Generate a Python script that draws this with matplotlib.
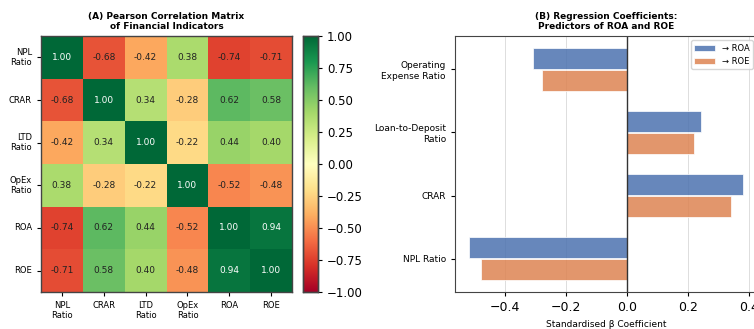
import numpy as np
import matplotlib
matplotlib.use('Agg')
import matplotlib.pyplot as plt
import seaborn as sns

### DATA

labels = ['NPL\nRatio', 'CRAR', 'LTD\nRatio', 'OpEx\nRatio', 'ROA', 'ROE']
corr = np.array([
    [1.00, -0.68, -0.42, 0.38, -0.74, -0.71],
    [-0.68, 1.00, 0.34, -0.28, 0.62, 0.58],
    [-0.42, 0.34, 1.00, -0.22, 0.44, 0.40],
    [0.38, -0.28, -0.22, 1.00, -0.52, -0.48],
    [-0.74, 0.62, 0.44, -0.52, 1.00, 0.94],
    [-0.71, 0.58, 0.40, -0.48, 0.94, 1.00],
])

predictors = ['NPL Ratio', 'CRAR', 'Loan-to-Deposit\nRatio', 'Operating\nExpense Ratio']
beta_roa = [-0.52, 0.38, 0.24, -0.31]
beta_roe = [-0.48, 0.34, 0.22, -0.28]

### PLOT

fig = plt.figure(figsize=(7.54, 3.29), dpi=100)

ax1 = fig.add_axes([0.0544, 0.1125, 0.3329, 0.778])
cax = fig.add_axes([0.4019, 0.1125, 0.0199, 0.778])
ax2 = fig.add_axes([0.6034, 0.1125, 0.4005, 0.778])

# (A) heatmap
sns.heatmap(corr, ax=ax1, cbar_ax=cax, cmap='RdYlGn', vmin=-1, vmax=1,
            annot=False, xticklabels=labels, yticklabels=labels)
for i in range(corr.shape[0]):
    for j in range(corr.shape[1]):
        v = corr[i, j]
        ax1.text(j + 0.5, i + 0.5, f'{v:.2f}', ha='center', va='center',
                 fontsize=6.5, color='white' if v > 0.9 else '#222222')
for s in ax1.spines.values():
    s.set_visible(True)
    s.set_linewidth(1.0)
    s.set_color('#444444')
ax1.tick_params(axis='both', labelsize=6, length=3)
plt.setp(ax1.get_xticklabels(), rotation=0)
plt.setp(ax1.get_yticklabels(), rotation=0)
ax1.set_title('(A) Pearson Correlation Matrix\nof Financial Indicators',
              fontsize=6.5, fontweight='bold', pad=5)
cax.tick_params(labelsize=8.5, length=3)
cax.set_yticks([-1, -0.75, -0.5, -0.25, 0, 0.25, 0.5, 0.75, 1])
for s in cax.spines.values():
    s.set_visible(True)
    s.set_linewidth(1.0)
    s.set_color('#444444')

# (B) regression coefficients
y = np.arange(len(predictors))
h = 0.34
ax2.barh(y + h / 2 + 0.005, beta_roa, height=h, color='#4C72B0', alpha=0.85,
         edgecolor='white', linewidth=0.6, label='→ ROA')
ax2.barh(y - h / 2 - 0.005, beta_roe, height=h, color='#DD8452', alpha=0.85,
         edgecolor='white', linewidth=0.6, label='→ ROE')
ax2.axvline(0, color='#333333', lw=1.0)
ax2.set_yticks(y)
ax2.set_yticklabels(predictors)
ax2.tick_params(axis='y', labelsize=6.5, length=3)
ax2.tick_params(axis='x', labelsize=9, length=3)
ax2.xaxis.grid(True, color='#dddddd', lw=0.7)
ax2.set_axisbelow(True)
ax2.set_xlabel('Standardised β Coefficient', fontsize=6.5)
ax2.set_title('(B) Regression Coefficients:\nPredictors of ROA and ROE',
              fontsize=6.5, fontweight='bold', pad=5)
ax2.legend(loc='upper right', fontsize=6, handlelength=2.5)
for s in ax2.spines.values():
    s.set_color('#444444')

plt.savefig('out.png', dpi=100)
